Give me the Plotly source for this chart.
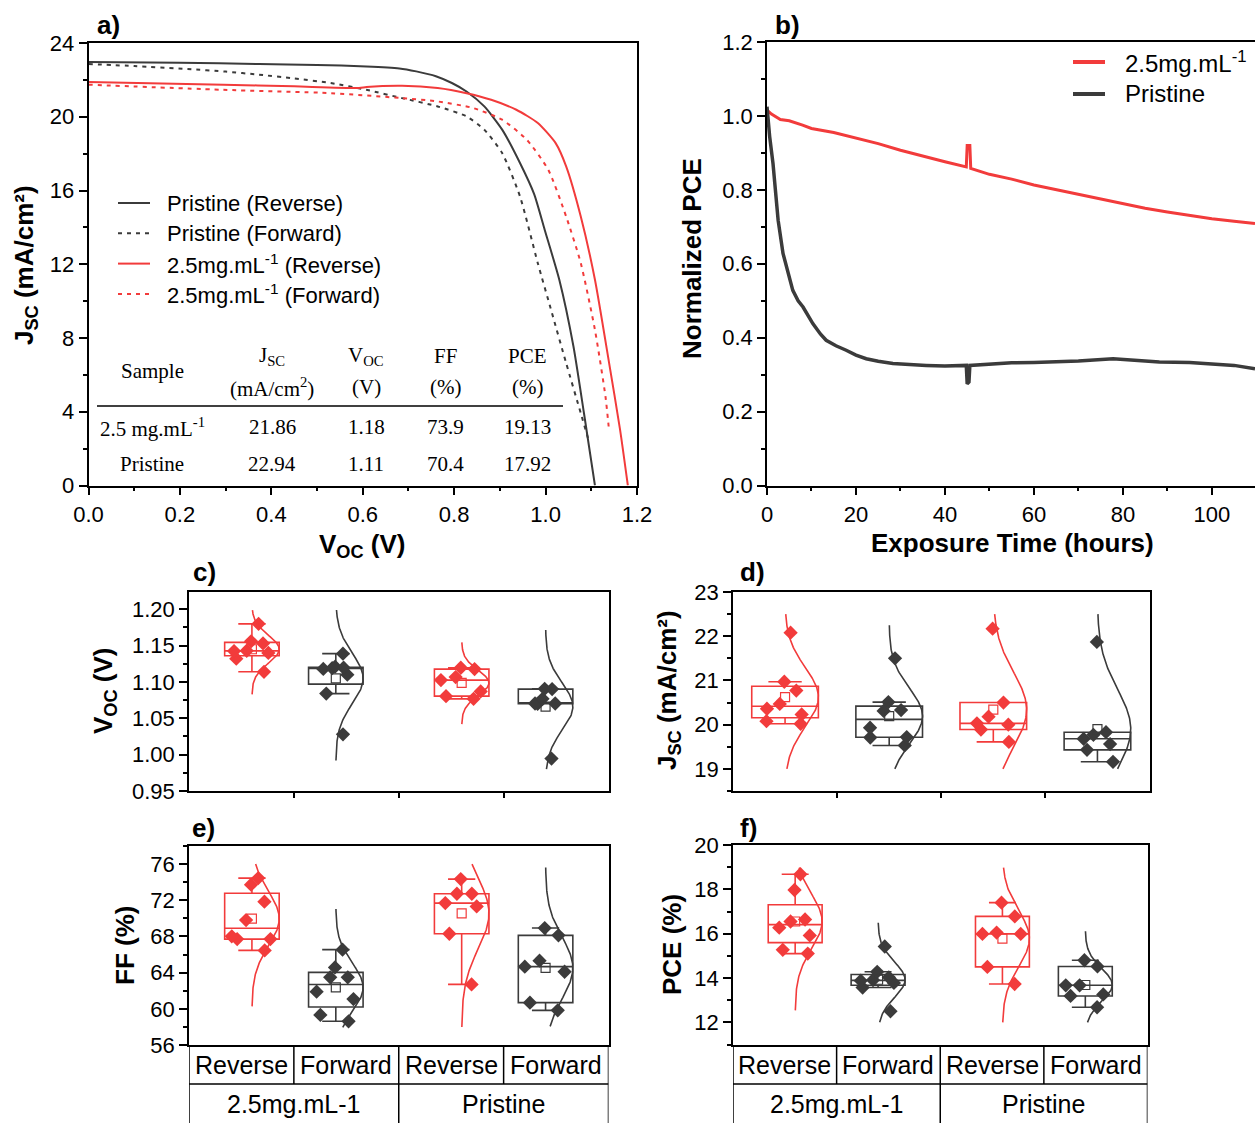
import numpy as np
import plotly.graph_objects as go

W, H = 1255, 1123
FONT = "Liberation Sans, Arial, sans-serif"
SERIF = "Liberation Serif, Times New Roman, serif"
RED = "#F23B3B"
DARK = "#3B3B3B"

# ---------------- data ----------------
# a) J-V curves
v_pr_rev = [0.0, 0.2, 0.373, 0.5, 0.608, 0.68, 0.717, 0.76, 0.795, 0.827, 0.866, 0.905, 0.944, 0.975, 0.998, 1.03, 1.061, 1.084, 1.108]
j_pr_rev = [22.97, 22.93, 22.86, 22.81, 22.73, 22.62, 22.46, 22.2, 21.83, 21.37, 20.56, 19.3, 17.49, 15.8, 13.87, 11.16, 7.54, 3.92, 0.0]
v_pr_fwd = [0.0, 0.1, 0.217, 0.3, 0.373, 0.45, 0.53, 0.608, 0.686, 0.764, 0.827, 0.866, 0.905, 0.944, 0.983, 1.014, 1.045, 1.077, 1.096]
j_pr_fwd = [22.86, 22.75, 22.59, 22.45, 22.28, 22.08, 21.83, 21.46, 21.01, 20.56, 20.02, 19.3, 18.03, 15.68, 12.06, 9.35, 6.64, 3.92, 2.3]
v_25_rev = [0.0, 0.295, 0.45, 0.592, 0.608, 0.686, 0.764, 0.827, 0.881, 0.936, 0.983, 1.022, 1.045, 1.077, 1.108, 1.139, 1.163, 1.18]
j_25_rev = [21.88, 21.74, 21.65, 21.56, 21.61, 21.68, 21.56, 21.28, 20.92, 20.38, 19.66, 18.57, 17.31, 14.59, 11.16, 6.64, 3.02, 0.0]
v_25_fwd = [0.0, 0.295, 0.53, 0.686, 0.764, 0.842, 0.905, 0.959, 1.006, 1.045, 1.077, 1.108, 1.131, 1.138]
j_25_fwd = [21.74, 21.46, 21.28, 21.01, 20.83, 20.47, 19.84, 18.75, 17.12, 14.59, 12.06, 8.44, 4.83, 3.2]
jv_names = ["Pristine (Reverse)", "Pristine (Forward)",
            "2.5mg.mL<sup>-1</sup> (Reverse)", "2.5mg.mL<sup>-1</sup> (Forward)"]

table_header = ["Sample", "J<sub>SC</sub>", "V<sub>OC</sub>", "FF", "PCE"]
table_units = ["", "(mA/cm<sup>2</sup>)", "(V)", "(%)", "(%)"]
table_rows = [["2.5 mg.mL<sup>-1</sup>", "21.86", "1.18", "73.9", "19.13"],
              ["Pristine", "22.94", "1.11", "70.4", "17.92"]]

# b) stability
t_25 = [0, 1, 3, 5, 8, 10, 15, 20, 25, 30, 35, 40, 44.8, 45.0, 45.6, 45.8, 50, 55, 60, 65, 70, 75, 80, 85, 90, 95, 100, 105, 109.7]
pce_25 = [1.016, 1.005, 0.99, 0.987, 0.975, 0.966, 0.955, 0.94, 0.925, 0.907, 0.891, 0.876, 0.862, 0.92, 0.92, 0.858, 0.842, 0.829, 0.813, 0.8, 0.789, 0.776, 0.763, 0.75, 0.74, 0.73, 0.722, 0.715, 0.709]
t_pr = [0, 0.3, 0.6, 1.35, 2.5, 3.6, 5, 5.8, 7, 8.1, 10.3, 12, 13.3, 15.5, 17.8, 20, 22.3, 25, 28.3, 32, 35.8, 40, 44.8, 45.0, 45.4, 45.6, 50.8, 55, 60, 65.8, 70, 77.8, 82, 88.2, 95, 100, 105, 109.7]
pce_pr = [1.025, 0.97, 0.944, 0.871, 0.718, 0.628, 0.56, 0.528, 0.5, 0.483, 0.438, 0.41, 0.393, 0.378, 0.366, 0.353, 0.343, 0.336, 0.33, 0.327, 0.325, 0.323, 0.325, 0.275, 0.28, 0.325, 0.33, 0.332, 0.333, 0.334, 0.337, 0.343, 0.34, 0.334, 0.333, 0.33, 0.325, 0.316]
stab_names = ["2.5mg.mL<sup>-1</sup>", "Pristine"]

# c-f) statistics (groups: 2.5 Reverse, 2.5 Forward, Pristine Reverse, Pristine Forward)
scan_labels = ["Reverse", "Forward", "Reverse", "Forward"]
sample_labels = ["2.5mg.mL-1", "Pristine"]
voc_groups = [[1.180, 1.156, 1.153, 1.1425, 1.143, 1.140, 1.132, 1.114],
              [1.139, 1.121, 1.1196, 1.119, 1.118, 1.110, 1.084, 1.028],
              [1.1196, 1.1177, 1.1067, 1.1026, 1.087, 1.0805, 1.0768],
              [1.0906, 1.0902, 1.0768, 1.0704, 1.0704, 1.070, 0.9946]]
jsc_groups = [[22.08, 20.97, 20.77, 20.47, 20.36, 20.23, 20.08, 20.02],
              [21.50, 20.51, 20.33, 20.31, 19.93, 19.72, 19.71, 19.53],
              [22.17, 20.50, 20.18, 20.03, 20.00, 19.89, 19.61],
              [21.87, 19.83, 19.77, 19.68, 19.56, 19.43, 19.16]]
ff_groups = [[74.45, 73.72, 71.84, 69.81, 68.01, 67.71, 67.71, 66.46],
             [66.54, 64.58, 63.48, 63.48, 61.89, 61.08, 59.32, 58.62],
             [74.34, 72.72, 72.72, 71.69, 71.32, 68.30, 62.70],
             [68.93, 68.12, 65.32, 64.66, 64.10, 60.68, 59.83]]
pce_groups = [[18.68, 17.97, 16.64, 16.55, 16.27, 15.92, 15.27, 15.10],
              [15.42, 14.28, 14.03, 13.91, 13.88, 13.78, 13.57, 12.50],
              [17.40, 16.78, 16.05, 15.99, 15.99, 14.50, 13.73],
              [14.80, 14.52, 13.67, 13.67, 13.26, 13.19, 12.68]]
# extent (low, high) of the fitted normal curves
voc_curve_lo = [1.083, 0.992, 1.042, 0.980]
voc_curve_hi = [1.199, 1.199, 1.1545, 1.1715]
jsc_curve_lo = [19.0, 19.0, 19.0, 19.0]
jsc_curve_hi = [22.5, 22.25, 22.5, 22.5]
ff_curve_lo = [60.27, 57.95, 57.99, 58.06]
ff_curve_hi = [76.0, 71.03, 76.0, 75.63]
pce_curve_lo = [12.54, 12.0, 12.0, 12.0]
pce_curve_hi = [18.98, 16.49, 18.98, 16.11]


def px(x):
    return x / W


def py(y):
    return 1 - y / H


fig = go.Figure()
ann = []
shapes = []


def text(x, y, t, size=21, fam=FONT, angle=0, **kw):
    d = dict(x=px(x), y=py(y), xref="paper", yref="paper", text=t, showarrow=False,
             font=dict(family=fam, size=size, color="black"), textangle=angle,
             xanchor="center", yanchor="middle")
    d.update(kw)
    ann.append(d)


def legend_entry(x0, x1, y, col, dash, width, label, tx, size):
    shapes.append(dict(type="line", xref="paper", yref="paper", x0=px(x0), x1=px(x1), y0=py(y), y1=py(y),
                       line=dict(color=col, width=width, dash=dash)))
    text(tx, y, label, size=size, xanchor="left")


# ---------------- a) ----------------
jv = [(v_pr_rev, j_pr_rev, DARK, "solid"),
      (v_pr_fwd, j_pr_fwd, DARK, "4px,5px"),
      (v_25_rev, j_25_rev, RED, "solid"),
      (v_25_fwd, j_25_fwd, RED, "4px,5px")]
for k, (vx, jy, col, dash) in enumerate(jv):
    fig.add_trace(go.Scatter(x=vx, y=jy, mode="lines", name=jv_names[k], xaxis="x", yaxis="y",
                             showlegend=False,
                             line=dict(color=col, width=2, dash=dash, shape="spline", smoothing=0.6)))
    legend_entry(118, 150, 203 + 30.3 * k, col, dash, 2, jv_names[k], 165, 22)

# ---------------- b) ----------------
for k, (tt, pp, col, wdt) in enumerate([(t_25, pce_25, RED, 3), (t_pr, pce_pr, DARK, 3.5)]):
    fig.add_trace(go.Scatter(x=tt, y=pp, mode="lines", name=stab_names[k], showlegend=False,
                             xaxis="x2", yaxis="y2", line=dict(color=col, width=wdt)))
    legend_entry(1073, 1105, 62 + 32 * k, col, "solid", 4, stab_names[k], 1123, 24)

# ---------------- c-f) ----------------
POS_N = [0.6, 1.4, 2.6, 3.4]
POS_D = [0.5, 1.5, 2.5, 3.5]
COLS = [RED, DARK, RED, DARK]
panels = [(voc_groups, voc_curve_lo, voc_curve_hi, "x3", "y3", POS_N, 0.52),
          (jsc_groups, jsc_curve_lo, jsc_curve_hi, "x4", "y4", POS_D, 0.64),
          (ff_groups, ff_curve_lo, ff_curve_hi, "x5", "y5", POS_N, 0.52),
          (pce_groups, pce_curve_lo, pce_curve_hi, "x6", "y6", POS_N, 0.52)]
for groups, lo, hi, xa, ya, pos, wd in panels:
    for i, vals in enumerate(groups):
        arr = np.array(vals, dtype=float)
        m, s = arr.mean(), arr.std(ddof=1)
        yy = np.linspace(lo[i], hi[i], 150)
        xx = pos[i] + wd / 2 * np.exp(-0.5 * ((yy - m) / s) ** 2)
        fig.add_trace(go.Scatter(x=xx, y=yy, mode="lines", xaxis=xa, yaxis=ya, showlegend=False,
                                 line=dict(color=COLS[i], width=1.6), hoverinfo="skip"))
        fig.add_trace(go.Box(y=vals, x=[pos[i]] * len(vals), xaxis=xa, yaxis=ya, width=wd,
                             quartilemethod="exclusive", boxpoints="all", jitter=0.9, pointpos=0,
                             whiskerwidth=0.5, fillcolor="rgba(0,0,0,0)", showlegend=False,
                             line=dict(color=COLS[i], width=1.6),
                             marker=dict(symbol="diamond", size=11, color=COLS[i])))
        fig.add_trace(go.Scatter(x=[pos[i]], y=[m], mode="markers", xaxis=xa, yaxis=ya, showlegend=False,
                                 marker=dict(symbol="square-open", size=9, color=COLS[i],
                                             line=dict(width=1.2, color=COLS[i]))))


def ax(**kw):
    d = dict(showline=True, linecolor="black", linewidth=1.5, mirror=True, automargin=False,
             ticks="outside", ticklen=8, tickwidth=1.5, tickcolor="black",
             showgrid=False, zeroline=False,
             tickfont=dict(family=FONT, size=22, color="black"))
    d.update(kw)
    return d


def minor(dt):
    return dict(ticks="outside", ticklen=4, tickwidth=1.5, tickcolor="black", dtick=dt, showgrid=False)


bx_x = dict(range=[0, 4], tickvals=[1, 2, 3], ticklen=5, showticklabels=False)

layout = dict(
    template="none",
    width=W, height=H, margin=dict(l=0, r=0, t=0, b=0, pad=0, autoexpand=False),
    paper_bgcolor="white", plot_bgcolor="white", boxmode="overlay", showlegend=False,
    font=dict(family=FONT, color="black"),
    xaxis=ax(domain=[px(88.5), px(637)], range=[0, 1.2], dtick=0.2, tickformat=".1f", minor=minor(0.1), anchor="y"),
    yaxis=ax(domain=[py(485.5), py(43)], range=[0, 24], dtick=4, minor=minor(2), anchor="x"),
    xaxis2=ax(domain=[px(767), 1.0], range=[0, 109.7], dtick=20, minor=minor(10), anchor="y2"),
    yaxis2=ax(domain=[py(485.5), py(42)], range=[0, 1.2], dtick=0.2, tickformat=".1f", minor=minor(0.1),
              anchor="x2", mirror=False),
    xaxis3=ax(domain=[px(189), px(608.5)], anchor="y3", **bx_x),
    yaxis3=ax(domain=[py(791), py(592)], range=[0.95, 1.2238], dtick=0.05, tickformat=".2f",
              minor=minor(0.025), anchor="x3"),
    xaxis4=ax(domain=[px(733), px(1149.5)], anchor="y4", **bx_x),
    yaxis4=ax(domain=[py(791), py(592)], range=[18.5, 23], dtick=1, minor=minor(0.5), anchor="x4"),
    xaxis5=ax(domain=[px(189), px(608.5)], anchor="y5", range=[0, 4], ticks="", showticklabels=False),
    yaxis5=ax(domain=[py(1045), py(846)], range=[56, 78], dtick=4, minor=minor(2), anchor="x5"),
    xaxis6=ax(domain=[px(733), px(1147.5)], anchor="y6", range=[0, 4], ticks="", showticklabels=False),
    yaxis6=ax(domain=[py(1044.5), py(845)], range=[11, 20], dtick=2, minor=minor(1), anchor="x6"),
)
fig.update_layout(**layout)

# panel labels
for lab, x, y in [("a)", 108, 25), ("b)", 787, 25), ("c)", 204, 572), ("d)", 752, 572),
                  ("e)", 203, 828), ("f)", 748, 828)]:
    text(x, y, "<b>%s</b>" % lab, size=26)

# axis titles
text(25, 265, "<b>J<sub>SC</sub> (mA/cm²)</b>", size=26, angle=-90)
text(362, 545, "<b>V<sub>OC</sub> (V)</b>", size=26)
text(692, 259, "<b>Normalized PCE</b>", size=26, angle=-90)
text(1012, 543, "<b>Exposure Time (hours)</b>", size=26)
text(104, 691, "<b>V<sub>OC</sub> (V)</b>", size=26, angle=-90)
text(668, 690, "<b>J<sub>SC</sub> (mA/cm²)</b>", size=26, angle=-90)
text(125, 946, "<b>FF (%)</b>", size=26, angle=-90)
text(672, 945, "<b>PCE (%)</b>", size=26, angle=-90)

# table in a)
col_x = [152, 272, 366, 445, 527]
for cx, hd, un in zip(col_x, table_header, table_units):
    if un:
        text(cx, 356, hd, fam=SERIF)
        text(cx, 387, un, fam=SERIF)
    else:
        text(cx, 371, hd, fam=SERIF)
for ry, row in zip([427, 464], table_rows):
    for cx, v in zip(col_x, row):
        text(cx, ry, v, fam=SERIF)

shapes.append(dict(type="line", xref="paper", yref="paper", x0=px(97), x1=px(563), y0=py(406), y1=py(406),
                   line=dict(color="black", width=1.5)))

# category tables under e) and f)
for xa in ["x5", "x6"]:
    for xv in [0, 1, 2, 3, 4]:
        y_end = 1123 if xv in (0, 2, 4) else 1084
        shapes.append(dict(type="line", xref=xa, yref="paper", x0=xv, x1=xv, y0=py(1045), y1=py(y_end),
                           line=dict(color="black", width=1.5)))
    shapes.append(dict(type="line", xref=xa, yref="paper", x0=0, x1=4, y0=py(1084), y1=py(1084),
                       line=dict(color="black", width=1.5)))
    for k, lab in enumerate(scan_labels):
        ann.append(dict(x=k + 0.5, y=py(1065), xref=xa, yref="paper", text=lab, showarrow=False,
                        font=dict(family=FONT, size=25, color="black"), xanchor="center", yanchor="middle"))
    for k, lab in enumerate(sample_labels):
        ann.append(dict(x=2 * k + 1, y=py(1104), xref=xa, yref="paper", text=lab, showarrow=False,
                        font=dict(family=FONT, size=25, color="black"), xanchor="center", yanchor="middle"))

fig.update_layout(annotations=ann, shapes=shapes)
fig.write_html("out.html")
